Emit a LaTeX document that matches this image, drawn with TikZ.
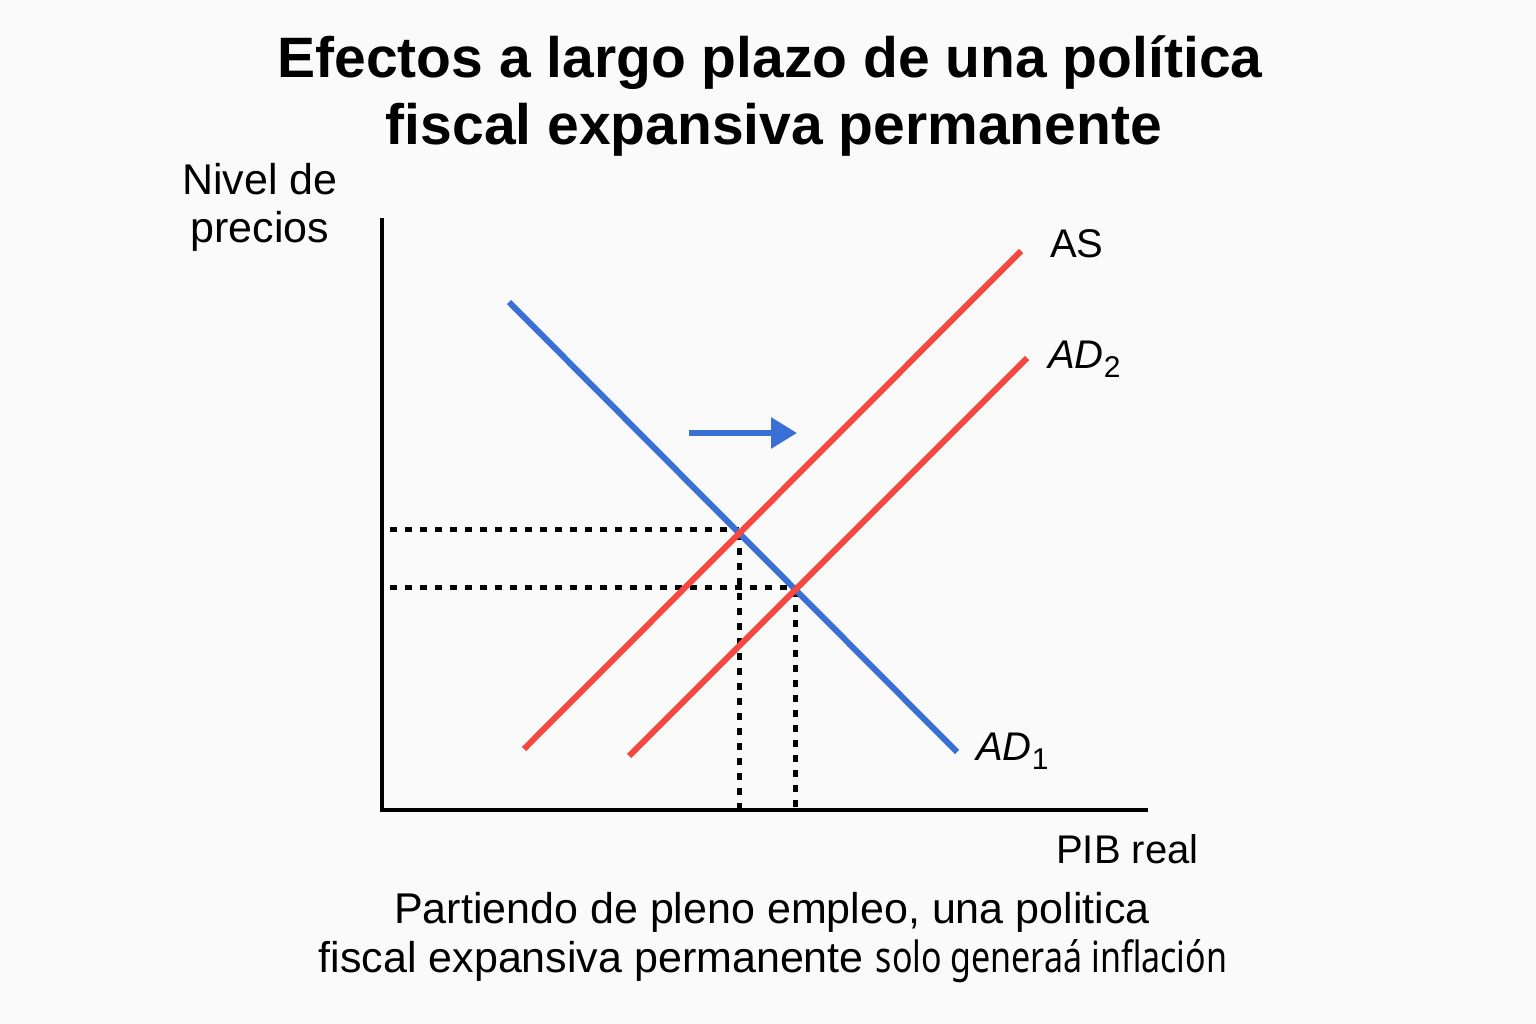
\documentclass[tikz,border=0pt]{standalone}
\usepackage{fontspec}
\setmainfont{Liberation Sans}
\newfontfamily\titlefont{Liberation Sans Bold}
\newfontfamily\condfont[FakeStretch=0.79]{Noto Sans}
\usetikzlibrary{arrows.meta,intersections,calc}
\definecolor{adblue}{HTML}{3A6FD6}
\definecolor{asred}{HTML}{F5483F}
\tikzset{
  axisline/.style={line width=4pt,black},
  curveblue/.style={line width=6pt,adblue},
  curvered/.style={line width=6pt,asred},
  guide/.style={line width=4.5pt,black,dash pattern=on 7pt off 8pt},
  lbl/.style={inner sep=0pt,font=\fontsize{40}{48}\selectfont},
  ylbl/.style={inner sep=0pt,font=\fontsize{43}{50}\selectfont},
  captext/.style={inner sep=0pt,font=\fontsize{43}{50}\selectfont},
  ttl/.style={inner sep=0pt,font=\titlefont\fontsize{57}{67}\selectfont},
}
\begin{document}
\begin{tikzpicture}[x=1pt,y=-1pt]
\useasboundingbox (0,0) rectangle (1536,1024);
\fill[white!98!black] (0,0) rectangle (1536,1024);
% title
\node[ttl,anchor=base] (t1) at (770,78) {Efectos a largo plazo de una política};
\node[ttl,anchor=base] (t2) at (774,145) {fiscal expansiva permanente};
% axes
\coordinate (O) at (382,810);
\coordinate (ytop) at (382,218);
\coordinate (xend) at (1148,810);
\coordinate (ya) at (390,810);
\draw[axisline] (ytop) -- (O) -- (xend);
% curves
\coordinate (ad1a) at (509,302);
\coordinate (ad1b) at (957,752);
\coordinate (asa) at (524,749);
\coordinate (asb) at (1021,251);
\coordinate (ad2a) at (629,756);
\coordinate (ad2b) at (1027,358);
\path[name path=ad1] (ad1a) -- (ad1b);
\path[name path=as] (asa) -- (asb);
\path[name path=ad2] (ad2a) -- (ad2b);
\path[name intersections={of=ad1 and as,by=E1}];
\path[name intersections={of=ad1 and ad2,by=E2}];
\coordinate (H1) at ($(E1)+(0,-4)$);
\coordinate (H2) at ($(E2)+(0,-2)$);
% guides
\draw[guide] (H1 -| ya) -- (H1);
\draw[guide] (H2 -| ya) -- (H2);
\draw[guide] (E1) -- (E1 |- O);
\draw[guide] (E2) -- (E2 |- O);
\draw[curveblue] (ad1a) -- (ad1b);
\draw[curvered] (asa) -- (asb);
\draw[curvered] (ad2a) -- (ad2b);
% shift arrow
\coordinate (arA) at (689,433);
\coordinate (arB) at (797,433);
\draw[line width=6pt,adblue,-{Triangle[length=26pt,width=30pt]}] (arA) -- (arB);
% labels
\node[ylbl,anchor=base] (ylab1) at (260,195) {Nivel de};
\node[ylbl,anchor=base] (ylab2) at (260,243) {precios};
\node[lbl,anchor=base west] (las) at (1050,258) {AS};
\node[lbl,anchor=base west] (lad2) at (1048,368) {\textit{AD}\raisebox{-9pt}{\fontsize{30}{36}\selectfont 2}};
\node[lbl,anchor=base west] (lad1) at (976,760) {\textit{AD}\raisebox{-9pt}{\fontsize{30}{36}\selectfont 1}};
\node[lbl,anchor=base west] (lx) at (1056,863) {PIB real};
% caption
\node[captext,anchor=base] (c1) at (772,923) {Partiendo de pleno empleo, una politica};
\node[captext,anchor=base] (c2) at (773,972) {fiscal expansiva permanente {\condfont solo generaá inflación}};
\end{tikzpicture}
\end{document}
